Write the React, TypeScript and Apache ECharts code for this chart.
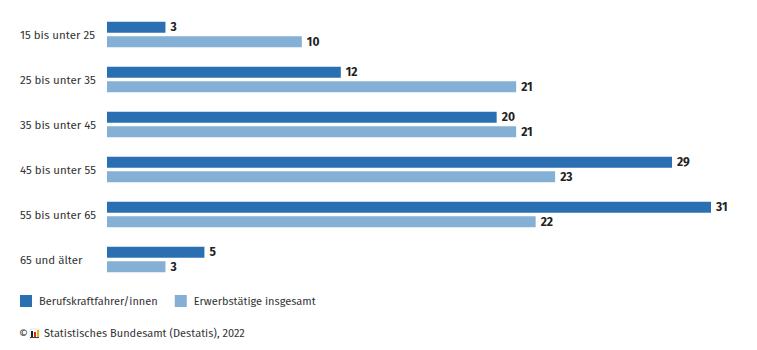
import React, { useEffect, useRef } from "react";
import * as echarts from "echarts";

const categories = [
  "15 bis unter 25",
  "25 bis unter 35",
  "35 bis unter 45",
  "45 bis unter 55",
  "55 bis unter 65",
  "65 und älter",
];
const berufskraftfahrer = [3, 12, 20, 29, 31, 5];
const erwerbstaetige = [10, 21, 21, 23, 22, 3];
const seriesNames = ["Berufskraftfahrer/innen", "Erwerbstätige insgesamt"];
const colors = ["#2b6fb3", "#85b0d6"];
const sourceText = "Statistisches Bundesamt (Destatis), 2022";

const FONT = "'Fira Sans', 'Open Sans', 'Noto Sans', sans-serif";

export default function App() {
  const ref = useRef<HTMLDivElement>(null);
  useEffect(() => {
    if (!ref.current) return;
    const chart = echarts.init(ref.current, null, { renderer: "svg" });
    const label = {
      show: true,
      position: "right",
      distance: 5,
      color: "#222",
      fontWeight: "bold",
      fontSize: 12,
      fontFamily: FONT,
    };
    chart.setOption({
      animation: false,
      textStyle: { fontFamily: FONT },
      grid: { left: 107, right: 46, top: 12, bottom: 68, containLabel: false },
      xAxis: {
        type: "value",
        min: 0,
        max: 31,
        show: false,
      },
      yAxis: {
        type: "category",
        data: categories,
        inverse: true,
        axisLine: { show: false },
        axisTick: { show: false },
        splitLine: { show: false },
        axisLabel: {
          align: "left",
          margin: 87,
          color: "#333",
          fontSize: 11.5,
          fontFamily: FONT,
        },
      },
      legend: {
        left: 15,
        top: 290,
        itemWidth: 12,
        itemHeight: 12,
        itemGap: 17,
        icon: "rect",
        textStyle: { color: "#333", fontSize: 11, fontFamily: FONT, padding: [0, 0, 0, 2] },
        data: seriesNames,
      },
      series: [
        {
          name: seriesNames[0],
          type: "bar",
          data: berufskraftfahrer,
          barWidth: 11,
          barGap: "30%",
          itemStyle: { color: colors[0] },
          label,
        },
        {
          name: seriesNames[1],
          type: "bar",
          data: erwerbstaetige,
          barWidth: 11,
          barGap: "30%",
          itemStyle: { color: colors[1] },
          label,
        },
      ],
      graphic: [
        {
          type: "text",
          left: 19,
          top: 328,
          style: { text: "©", fill: "#333", fontSize: 11, fontFamily: FONT },
        },
        { type: "rect", shape: { x: 30, y: 329, width: 9, height: 9 }, style: { fill: "#fff", stroke: "#ccc", lineWidth: 0.5 } },
        { type: "rect", shape: { x: 31, y: 331, width: 2, height: 6 }, style: { fill: "#222" } },
        { type: "rect", shape: { x: 34, y: 332, width: 2, height: 5 }, style: { fill: "#d22" } },
        { type: "rect", shape: { x: 37, y: 330, width: 2, height: 7 }, style: { fill: "#e8b500" } },
        { type: "rect", shape: { x: 30, y: 337, width: 9, height: 1 }, style: { fill: "#444" } },
        {
          type: "text",
          left: 44,
          top: 328,
          style: { text: sourceText, fill: "#333", fontSize: 11, fontFamily: FONT },
        },
      ],
    });
    return () => chart.dispose();
  }, []);
  return <div ref={ref} style={{ width: 757, height: 350, position: "absolute", left: 0, top: 0 }} />;
}
